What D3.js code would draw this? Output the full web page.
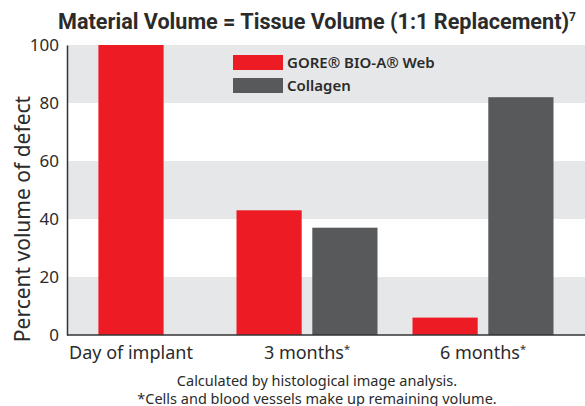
<!DOCTYPE html>
<html>
<head>
<meta charset="utf-8">
<script src="https://cdn.jsdelivr.net/npm/d3@7"></script>
<style>
  body { margin: 0; background: #fff; }
  text { font-family: "Noto Sans", sans-serif; fill: #2b2b2b; }
</style>
</head>
<body>
<div id="root"></div>
<script>
// DATA
let categories = ['Day of implant', '3 months', '6 months'];
let categoryStars = [false, true, true];
let seriesNames = ['GORE® BIO-A® Web', 'Collagen'];
let goreValues = [100, 43, 6];
let collagenValues = [null, 37, 82];
let yTicks = [0, 20, 40, 60, 80, 100];
let footnotes = ['Calculated by histological image analysis.', '*Cells and blood vessels make up remaining volume.'];

// DIMENSIONS
let width = 585, height = 406;
let plotLeft = 67, plotRight = 585, plotTop = 45, plotBottom = 335;
let colors = ['#ed1c24', '#58595b'];

let svg = d3.select('#root').append('svg')
  .attr('width', width)
  .attr('height', height);

let yScale = d3.scaleLinear().domain([0, 100]).range([plotBottom, plotTop]);

let x0 = d3.scaleBand().domain(categories).range([43, 571]);
let x1 = d3.scaleBand().domain(seriesNames).range([0, 141]).paddingInner(0.14);

// alternating bands
let bands = d3.range(0, 100, 20);
svg.selectAll('.band')
  .data(bands)
  .enter()
  .append('rect')
  .attr('x', plotLeft)
  .attr('width', plotRight - plotLeft)
  .attr('y', d => yScale(d + 20))
  .attr('height', d => yScale(d) - yScale(d + 20))
  .attr('fill', (d, i) => i % 2 === 0 ? '#e6e7e8' : '#ffffff');

// bars
let barData = [];
categories.forEach((c, i) => {
  let vals = [goreValues[i], collagenValues[i]];
  let count = vals.filter(v => v !== null).length;
  vals.forEach((v, j) => {
    if (v === null) return;
    let groupCenter = x0(c) + x0.bandwidth() / 2;
    let x;
    if (count === 1) x = groupCenter - x1.bandwidth() / 2;
    else x = groupCenter - 70.5 + x1(seriesNames[j]);
    barData.push({ cat: c, series: j, value: v, x: x });
  });
});

svg.selectAll('.bar')
  .data(barData)
  .enter()
  .append('rect')
  .attr('class', 'bar')
  .attr('x', d => d.x)
  .attr('width', x1.bandwidth())
  .attr('y', d => yScale(d.value))
  .attr('height', d => yScale(0) - yScale(d.value))
  .attr('fill', d => colors[d.series]);

// y axis
let yAxis = svg.append('g')
  .attr('transform', `translate(${plotLeft}, 0)`)
  .call(d3.axisLeft(yScale).tickValues(yTicks).tickSize(0).tickPadding(8));
yAxis.select('.domain').attr('stroke', '#333').attr('stroke-width', 1.5);
yAxis.selectAll('text').style('font-size', '17px').style('fill', '#2b2b2b')
  .style('font-family', '"Noto Sans", sans-serif');

// baseline
svg.append('line')
  .attr('x1', plotLeft).attr('x2', plotRight)
  .attr('y1', yScale(0)).attr('y2', yScale(0))
  .attr('stroke', '#333').attr('stroke-width', 1.5);

// x labels
let xLabels = svg.selectAll('.xlabel')
  .data(categories)
  .enter()
  .append('text')
  .attr('class', 'xlabel')
  .attr('x', d => x0(d) + x0.bandwidth() / 2)
  .attr('y', 359)
  .attr('text-anchor', 'middle')
  .style('font-size', '18px');
xLabels.append('tspan').text(d => d);
xLabels.filter((d, i) => categoryStars[i])
  .append('tspan').text('*').attr('dy', -6).style('font-size', '11px');

// y label
svg.append('text')
  .attr('transform', 'rotate(-90)')
  .attr('x', -219)
  .attr('y', 30)
  .attr('text-anchor', 'middle')
  .style('font-size', '21px')
  .text('Percent volume of defect');

// title
let title = svg.append('text')
  .attr('x', 317)
  .attr('y', 29)
  .attr('text-anchor', 'middle')
  .style('font-size', '21.6px')
  .style('font-weight', 'bold')
  .style('font-family', '"Liberation Sans Narrow", "Roboto", sans-serif');
title.append('tspan').text('Material Volume = Tissue Volume (1:1 Replacement)');
title.append('tspan').text('7').attr('dy', -8).style('font-size', '12px');

// legend
let legend = svg.append('g').attr('transform', 'translate(233, 55)');
let legendItems = legend.selectAll('.legend-item')
  .data(seriesNames)
  .enter()
  .append('g')
  .attr('transform', (d, i) => `translate(0, ${i * 23})`);
legendItems.append('rect')
  .attr('width', 50).attr('height', 15)
  .attr('fill', (d, i) => colors[i]);
legendItems.append('text')
  .attr('x', 54).attr('y', 13)
  .style('font-size', '15px')
  .style('font-weight', '600')
  .text(d => d);

// footnotes
svg.selectAll('.foot')
  .data(footnotes)
  .enter()
  .append('text')
  .attr('x', 317)
  .attr('y', (d, i) => 386 + i * 18)
  .attr('text-anchor', 'middle')
  .style('font-size', '14.5px')
  .text(d => d);
</script>
</body>
</html>
